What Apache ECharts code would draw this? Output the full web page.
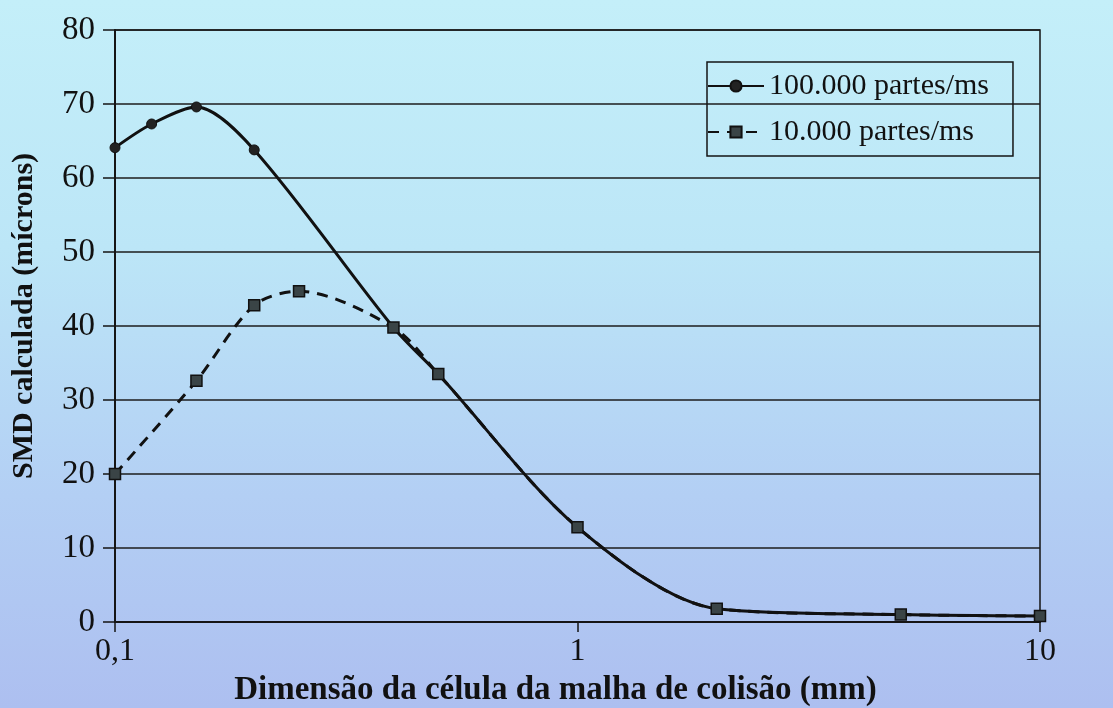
<!DOCTYPE html>
<html>
<head>
<meta charset="utf-8">
<script src="https://cdn.jsdelivr.net/npm/echarts@6/dist/echarts.min.js"></script>
<style>
  html, body { margin: 0; padding: 0; }
  #chart {
    width: 1113px;
    height: 708px;
    background: linear-gradient(180deg, #c4eff9 0%, #bce6f7 35%, #b3cff4 70%, #adbff0 100%);
  }
</style>
</head>
<body>
<div id="chart"></div>
<script>
const fastX = [0.1, 0.12, 0.15, 0.2, 0.4, 0.5, 1, 2, 5, 10];
const fastY = [64.1, 67.3, 69.6, 63.8, 39.8, 33.5, 12.8, 1.8, 1.0, 0.8];
const slowX = [0.1, 0.15, 0.2, 0.25, 0.4, 0.5, 1, 2, 5, 10];
const slowY = [20.0, 32.6, 42.8, 44.7, 39.8, 33.5, 12.8, 1.8, 1.0, 0.8];
const seriesNames = ['100.000 partes/ms', '10.000 partes/ms'];

const serif = '"Liberation Serif", "DejaVu Serif", serif';
const chart = echarts.init(document.getElementById('chart'));

const option = {
    backgroundColor: 'transparent',
    textStyle: { fontFamily: serif, color: '#111' },
    grid: {
        left: 115, right: 73, top: 30, bottom: 86,
        outerBoundsMode: 'none',
        show: true,
        borderColor: '#151515',
        borderWidth: 1.5
    },
    legend: {
        data: seriesNames,
        orient: 'vertical',
        left: 707,
        top: 62,
        width: 308,
        padding: [9, 24, 9, 0],
        itemGap: 16,
        itemWidth: 56,
        itemHeight: 14,
        borderColor: '#151515',
        borderWidth: 1.5,
        textStyle: { fontFamily: serif, fontSize: 30, color: '#111' }
    },
    xAxis: {
        type: 'log',
        logBase: 10,
        min: 0.1,
        max: 10,
        name: 'Dimensão da célula da malha de colisão (mm)',
        nameLocation: 'middle',
        nameGap: 52,
        nameTextStyle: {
            fontFamily: serif, fontSize: 33, fontWeight: 'bold', color: '#111',
            padding: [0, 44, 0, 0]
        },
        axisLine: { lineStyle: { color: '#151515', width: 2 } },
        axisTick: { length: 10, lineStyle: { color: '#151515', width: 1.5 } },
        minorTick: { show: false },
        splitLine: { show: false },
        axisLabel: {
            fontFamily: serif, fontSize: 32, color: '#111', margin: 14,
            formatter: v => String(Number(v.toPrecision(3))).replace('.', ',')
        }
    },
    yAxis: {
        type: 'value',
        min: 0,
        max: 80,
        interval: 10,
        name: 'SMD calculada (mícrons)',
        nameLocation: 'middle',
        nameGap: 76,
        nameTextStyle: {
            fontFamily: serif, fontSize: 30, fontWeight: 'bold', color: '#111',
            padding: [0, 0, 0, 20]
        },
        axisLine: { show: true, lineStyle: { color: '#151515', width: 2 } },
        axisTick: { show: true, length: 12, lineStyle: { color: '#151515', width: 1.5 } },
        splitLine: { lineStyle: { color: '#1c1c1c', width: 1.5 } },
        axisLabel: { fontFamily: serif, fontSize: 33, color: '#111', margin: 20 }
    },
    series: [
        {
            name: seriesNames[0],
            type: 'line',
            data: fastX.map((x, i) => [x, fastY[i]]),
            smooth: 0.3,
            symbol: 'circle',
            symbolSize: 10,
            itemStyle: { color: '#222', borderColor: '#111', borderWidth: 1 },
            lineStyle: { color: '#111', width: 3 }
        },
        {
            name: seriesNames[1],
            type: 'line',
            data: slowX.map((x, i) => [x, slowY[i]]),
            smooth: 0.3,
            symbol: 'rect',
            symbolSize: 11,
            itemStyle: { color: '#3a4446', borderColor: '#111', borderWidth: 1.5 },
            lineStyle: { color: '#111', width: 3, type: [11, 8] }
        }
    ]
};

chart.setOption(option);
</script>
</body>
</html>
